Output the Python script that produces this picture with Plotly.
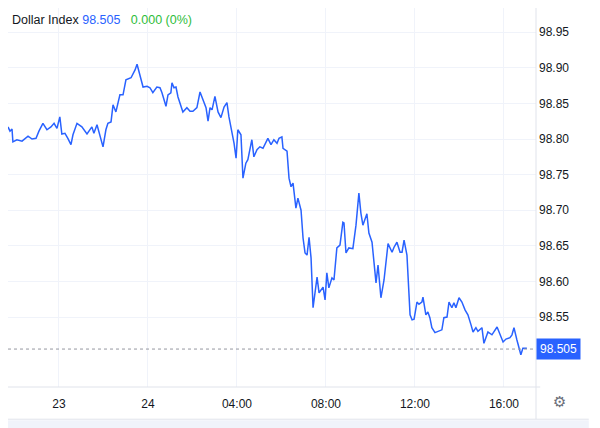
import plotly.graph_objects as go

# hours relative to 24th 00:00
hours = [
    -6.29, -6.20, -6.11, -6.07, -5.89, -5.66, -5.39, -5.21, -5.03, -4.90, -4.72, -4.54, -4.36, -4.22,
    -4.09, -3.96, -3.87, -3.73, -3.60, -3.46, -3.37, -3.19, -2.97, -2.83, -2.74, -2.52, -2.43, -2.29,
    -2.16, -2.02, -1.89, -1.80, -1.66, -1.57, -1.44, -1.26, -1.12, -0.99, -0.76, -0.58, -0.49, -0.36,
    -0.22, -0.04, 0.09, 0.22, 0.40, 0.54, 0.63, 0.81, 0.90, 1.03, 1.08, 1.17, 1.26, 1.35, 1.48, 1.57,
    1.75, 1.89, 2.02, 2.20, 2.34, 2.47, 2.61, 2.70, 2.79, 2.88, 3.01, 3.15, 3.28, 3.42, 3.55, 3.64,
    3.78, 3.87, 3.96, 4.04, 4.18, 4.27, 4.40, 4.49, 4.67, 4.76, 4.90, 5.03, 5.17, 5.39, 5.53, 5.66,
    5.80, 5.89, 6.02,
    6.07, 6.25, 6.34, 6.43, 6.52, 6.65, 6.74, 6.88, 6.97, 7.06, 7.15, 7.24, 7.33, 7.42, 7.60, 7.69,
    7.87, 7.96, 8.04, 8.13, 8.27, 8.36, 8.49, 8.63, 8.76, 8.81, 8.90, 9.03, 9.21, 9.35, 9.48, 9.57,
    9.66, 9.84, 9.93, 10.07, 10.16, 10.25, 10.34, 10.47, 10.61, 10.79, 10.97, 11.06, 11.19, 11.33,
    11.42, 11.51, 11.64, 11.78, 11.87, 11.96, 12.09, 12.18, 12.31, 12.36, 12.49, 12.58, 12.67, 12.76,
    12.90, 13.03, 13.21, 13.30, 13.44, 13.53, 13.66, 13.75, 13.84, 13.98, 14.11, 14.25, 14.38, 14.52,
    14.61, 14.74, 14.83, 15.01, 15.10, 15.28, 15.46, 15.69, 15.78, 15.96, 16.09, 16.27, 16.36, 16.45,
    16.58, 16.67, 16.76, 16.85, 17.03,
]
prices = [
    98.817, 98.811, 98.814, 98.796, 98.799, 98.797, 98.804, 98.800, 98.801, 98.811, 98.822, 98.813, 98.817, 98.822,
    98.815, 98.831, 98.807, 98.808, 98.801, 98.792, 98.806, 98.822, 98.817, 98.810, 98.807, 98.817, 98.808, 98.820,
    98.803, 98.789, 98.813, 98.822, 98.824, 98.848, 98.838, 98.862, 98.862, 98.883, 98.886, 98.897, 98.905, 98.890,
    98.873, 98.874, 98.872, 98.865, 98.873, 98.872, 98.865, 98.846, 98.862, 98.865, 98.879, 98.872, 98.873, 98.859, 98.848, 98.838,
    98.844, 98.839, 98.839, 98.844, 98.866, 98.855, 98.844, 98.825, 98.844, 98.841, 98.860, 98.838, 98.830, 98.845, 98.851, 98.831,
    98.808, 98.794, 98.773, 98.813, 98.806, 98.745, 98.766, 98.771, 98.799, 98.775, 98.785, 98.789, 98.787, 98.801, 98.792, 98.799,
    98.794, 98.801, 98.803,
    98.787, 98.783, 98.745, 98.733, 98.738, 98.703, 98.717, 98.700, 98.661, 98.640, 98.637, 98.662, 98.633, 98.563, 98.606, 98.584,
    98.592, 98.574, 98.612, 98.591, 98.605, 98.602, 98.647, 98.651, 98.683, 98.682, 98.640, 98.647, 98.646, 98.679, 98.724, 98.696,
    98.679, 98.695, 98.668, 98.655, 98.623, 98.598, 98.623, 98.577, 98.602, 98.653, 98.641, 98.648, 98.655, 98.641,
    98.641, 98.658, 98.637, 98.553, 98.546, 98.547, 98.571, 98.568, 98.571, 98.578, 98.553, 98.557, 98.549, 98.535,
    98.528, 98.530, 98.532, 98.549, 98.550, 98.571, 98.563, 98.570, 98.563, 98.577, 98.571, 98.560, 98.553, 98.539,
    98.529, 98.535, 98.530, 98.535, 98.513, 98.529, 98.525, 98.536, 98.528, 98.515, 98.519, 98.521, 98.525, 98.535,
    98.518, 98.506, 98.497, 98.506, 98.506,
]

x_tickvals = [-4, 0, 4, 8, 12, 16]
x_ticktext = ["23", "24", "04:00", "08:00", "12:00", "16:00"]
y_tickvals = [98.55, 98.60, 98.65, 98.70, 98.75, 98.80, 98.85, 98.90, 98.95]
last_price = 98.505

blue = "#2962ff"
grid = "#f0f3fa"
border = "#e0e3eb"
font = "Liberation Sans, Arial, sans-serif"

fig = go.Figure()
fig.add_trace(go.Scatter(
    x=hours, y=prices, mode="lines",
    line=dict(color=blue, width=1.5),
    hoverinfo="skip", showlegend=False,
))

# current price dotted line
fig.add_shape(type="line", xref="paper", x0=0, x1=1, yref="y", y0=last_price, y1=last_price,
              line=dict(color="#9598a1", width=1, dash="dot"))

# frame pieces
fig.add_shape(type="line", xref="paper", yref="paper", x0=1, x1=1, y0=-0.085, y1=1.03,
              line=dict(color=border, width=1))
fig.add_shape(type="line", xref="paper", yref="paper", x0=0, x1=1.008, y0=0, y1=0,
              line=dict(color=border, width=1))
fig.add_shape(type="line", xref="paper", yref="paper", x0=-0.01, x1=1.1, y0=-0.085, y1=-0.085,
              line=dict(color=border, width=1))
fig.add_shape(type="rect", xref="paper", yref="paper", x0=-0.01, x1=1.1, y0=-0.11, y1=-0.088,
              fillcolor="#f0f3fa", line=dict(width=0))

# price label on axis
fig.add_annotation(xref="paper", x=1, xanchor="left", yref="y", y=last_price, yanchor="middle",
                   text="98.505", showarrow=False, bgcolor=blue, borderpad=3,
                   font=dict(color="white", size=12, family=font))

# header text
fig.add_annotation(xref="paper", x=0.003, xanchor="left", yref="paper", y=0.968, yanchor="middle",
                   text=("Dollar Index <span style='color:#2962ff'>98.505</span>"
                         "   <span style='color:#2ebd3a'>0.000 (0%)</span>"),
                   showarrow=False, font=dict(color="#131722", size=12.5, family=font))

# settings gear
fig.add_annotation(xref="paper", x=1.045, xanchor="center", yref="paper", y=-0.04, yanchor="middle",
                   text="⚙", showarrow=False,
                   font=dict(color="#6a6d78", size=15, family="DejaVu Sans"))

fig.update_layout(
    width=600, height=428,
    margin=dict(l=0, r=72, t=0, b=49),
    paper_bgcolor="white", plot_bgcolor="white",
    font=dict(family=font, size=12, color="#131722"),
    xaxis=dict(
        range=[-6.29, 17.44], tickvals=x_tickvals, ticktext=x_ticktext,
        showgrid=True, gridcolor=grid, zeroline=False, showline=False,
        ticks="", ticklabelstandoff=8, fixedrange=True,
    ),
    yaxis=dict(
        range=[98.4517, 98.984], side="right", tickvals=y_tickvals, tickformat=".2f",
        showgrid=True, gridcolor=grid, zeroline=False, showline=False,
        ticks="", ticklabelstandoff=2, fixedrange=True,
    ),
)

fig.write_html("out.html")
